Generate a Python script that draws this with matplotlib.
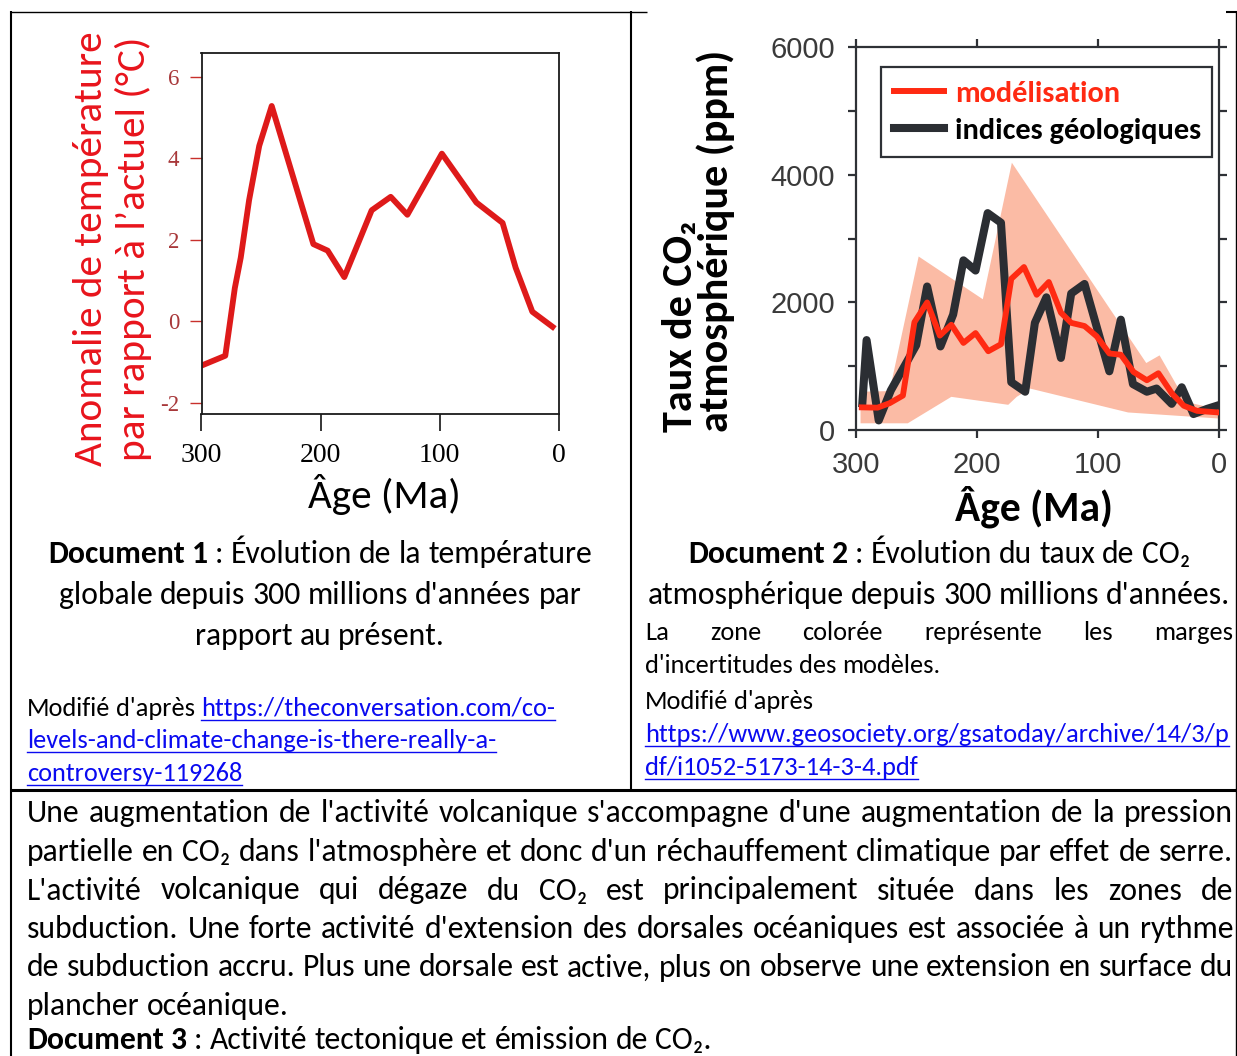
#!/usr/bin/python
"""
Documents 1 a 3 : temperature, CO2 atmospherique et activite tectonique
"""

# IMPORT
import re
import matplotlib
matplotlib.use("Agg")
import matplotlib.pyplot as plt
from matplotlib import font_manager
from matplotlib.lines import Line2D

# VARIABLES
W, H = 1237, 1056

# document 1 : anomalie de temperature (degC) en fonction de l'age (Ma)
age_temp = [299, 280, 272, 267, 260, 251.5, 241, 206, 194, 180, 157, 141, 127, 98, 69, 47, 36, 22, 5]
temp = [-1.08, -0.85, 0.81, 1.56, 2.97, 4.30, 5.28, 1.89, 1.73, 1.08, 2.72, 3.05, 2.61, 4.11, 2.91, 2.41, 1.31, 0.23, -0.14]
age_ticks = [300, 200, 100, 0]
temp_ticks = [-2, 0, 2, 4, 6]

# document 2 : CO2 (ppm)
age_geo = [294.5, 291, 281, 271, 250, 241, 230, 219.5, 211, 201, 191, 180, 171.5, 160, 152, 142.5,
           130.5, 122, 111, 90.5, 81, 71, 59.5, 51.5, 39, 30.7, 21, 10, 0]
co2_geo = [420, 1410, 150, 620, 1330, 2250, 1310, 1810, 2660, 2500, 3400, 3250, 750, 600, 1680, 2080,
           1130, 2140, 2290, 920, 1730, 720, 600, 650, 410, 670, 250, 330, 390]
age_mod = [295, 282, 272, 261, 251.5, 241, 230.5, 221, 211, 201, 190.5, 180, 171.5, 161, 150.5, 140.5,
           130.5, 122, 111, 101, 90.5, 81, 70.5, 59.5, 50, 38.7, 29, 18, 0]
co2_mod = [355, 350, 420, 540, 1690, 2000, 1480, 1650, 1365, 1520, 1235, 1345, 2370, 2555, 2120, 2320,
           1840, 1680, 1630, 1470, 1200, 1180, 910, 780, 890, 570, 380, 300, 275]
age_hi = [296, 272, 248, 195, 171, 60, 49, 27, 0]
co2_hi = [600, 610, 2720, 2050, 4190, 1050, 1170, 440, 320]
age_lo = [296, 257, 221, 174, 167, 156, 75, 0]
co2_lo = [105, 105, 520, 395, 520, 650, 275, 180]
co2_ticks = [0, 2000, 4000, 6000]
co2_minor = [1000, 3000, 5000]
leg_labels = ["modélisation", "indices géologiques"]

# textes
ylab1 = ["Anomalie de température", "par rapport à l’actuel (°C)"]
ylab2 = ["Taux de CO₂", "atmosphérique (ppm)"]
xlab = "Âge (Ma)"
doc1_lines = ["**Document 1** : Évolution de la température",
              "globale depuis 300 millions d'années par",
              "rapport au présent."]
doc1_src = ["Modifié d'après __https://theconversation.com/co-__",
            "__levels-and-climate-change-is-there-really-a-__",
            "__controversy-119268__"]
doc2_lines = ["**Document 2** : Évolution du taux de CO₂",
              "atmosphérique depuis 300 millions d'années."]
doc2_note = ["La zone colorée représente les marges",
             "d'incertitudes des modèles.",
             "Modifié d'après",
             "__https://www.geosociety.org/gsatoday/archive/14/3/p__",
             "__df/i1052-5173-14-3-4.pdf__"]
doc3_lines = ["Une augmentation de l'activité volcanique s'accompagne d'une augmentation de la pression",
              "partielle en CO₂ dans l'atmosphère et donc d'un réchauffement climatique par effet de serre.",
              "L'activité volcanique qui dégaze du CO₂ est principalement située dans les zones de",
              "subduction. Une forte activité d'extension des dorsales océaniques est associée à un rythme",
              "de subduction accru. Plus une dorsale est active, plus on observe une extension en surface du",
              "plancher océanique.",
              "**Document 3** : Activité tectonique et émission de CO₂."]

RED_T = "#de1a1a"
RED_M = "#ff2a12"
DARK = "#2b2e33"
LINK = "#0a0af0"


def has_font(name):
    try:
        font_manager.findfont(font_manager.FontProperties(family=name), fallback_to_default=False)
        return True
    except ValueError:
        return False


BODY = "Carlito" if has_font("Carlito") else "Lato"
FAM = [BODY, "DejaVu Sans"]
plt.rcParams["font.family"] = FAM
plt.rcParams["axes.unicode_minus"] = False

fig = plt.figure(figsize=(W / 100, H / 100), dpi=100)
R = fig.canvas.get_renderer()
STYLE = {"n": ("normal", "black"), "b": ("bold", "black"), "u": ("normal", LINK)}


# FUNCTIONS
def P(x, y):
    return x / W, 1 - y / H


def width(s, fs, weight="normal", family=None):
    t = fig.text(0, 0, s, fontsize=fs, weight=weight, family=family or FAM)
    w = t.get_window_extent(renderer=R).width
    t.remove()
    return w


def fit(s, px, weight="normal"):
    return 20 * px / width(s, 20, weight)


def parse(s):
    segs = []
    for part in re.split(r"(\*\*.*?\*\*|__.*?__)", s):
        if not part:
            continue
        if part.startswith("**"):
            segs.append((part[2:-2], "b"))
        elif part.startswith("__"):
            segs.append((part[2:-2], "u"))
        else:
            segs.append((part, "n"))
    toks = []
    for text, st in segs:
        for w in text.split():
            toks.append((w, st))
    return toks


def space(fs):
    return width("a a", fs) - width("aa", fs)


def natural(s, fs):
    tk = parse(s)
    return sum(width(w, fs, STYLE[st][0]) for w, st in tk) + space(fs) * (len(tk) - 1)


def draw_line(s, y, x0, x1=None, fs=20, align="left"):
    tk = parse(s)
    ws = [width(w, fs, STYLE[st][0]) for w, st in tk]
    gap = space(fs)
    total = sum(ws) + gap * (len(tk) - 1)
    x = x0
    if align == "justify" and len(tk) > 1:
        gap = (x1 - x0 - sum(ws)) / (len(tk) - 1)
    elif align == "center":
        x = x0 - total / 2
    for (w, st), wd in zip(tk, ws):
        weight, color = STYLE[st]
        fig.text(*P(x, y), w, fontsize=fs, weight=weight, color=color, ha="left", va="baseline")
        if st == "u":
            fig.add_artist(Line2D([x / W, (x + wd) / W], [1 - (y + 3.5) / H] * 2,
                                  color=color, lw=1.0, transform=fig.transFigure))
        x += wd + gap


def rule(x0, y0, x1, y1, lw):
    fig.add_artist(Line2D([x0 / W, x1 / W], [1 - y0 / H, 1 - y1 / H], color="black",
                          lw=lw, transform=fig.transFigure, solid_capstyle="butt"))


# MAIN
# --- document 1
ax1 = fig.add_axes([201.5 / W, 1 - 414 / H, 357 / W, 361 / H])
ax1.plot(age_temp, temp, color=RED_T, lw=4.2, solid_joinstyle="round")
ax1.set_xlim(300, 0)
ax1.set_ylim(-2.28, 6.58)
ax1.set_xticks(age_ticks)
ax1.set_yticks(temp_ticks)
ax1.tick_params(axis="x", direction="out", length=12, width=1.1, pad=9, labelsize=20,
                labelfontfamily="Liberation Serif")
ax1.tick_params(axis="y", direction="out", length=9, width=1.0, color="#c8302c",
                labelcolor="#a8383a", pad=7, labelsize=16.5, labelfontfamily="Liberation Serif")
for sp in ax1.spines.values():
    sp.set_linewidth(1.3)
    sp.set_color("#1a1a1a")

# --- document 2
ax2 = fig.add_axes([855.7 / W, 1 - 430 / H, 363.2 / W, 382.7 / H])
ax2.fill(age_hi + age_lo[::-1], co2_hi + co2_lo[::-1], color="#fbbba5", lw=0, zorder=1)
ax2.plot(age_geo, co2_geo, color=DARK, lw=5.8, zorder=3)
ax2.plot(age_mod, co2_mod, color=RED_M, lw=4.2, zorder=4)
ax2.set_xlim(300, 0)
ax2.set_ylim(0, 6000)
ax2.set_xticks(age_ticks)
ax2.set_yticks(co2_ticks)
ax2.set_yticks(co2_minor, minor=True)
ax2.tick_params(which="both", direction="out", top=True, right=True, length=6, width=1.6,
                color="#2e3136", labelsize=21, labelcolor="#3a3a3a",
                labelfontfamily="Liberation Sans", pad=9)
for sp in ax2.spines.values():
    sp.set_linewidth(1.6)
    sp.set_color("#2e3136")

fs_leg = fit(leg_labels[1], 247, "bold")
em = fs_leg * 100 / 72
handles = [Line2D([], [], color=RED_M, lw=4.3), Line2D([], [], color=DARK, lw=5.8)]
leg = ax2.legend(handles, leg_labels, loc="upper left", bbox_to_anchor=(0.0688, 0.0, 0.9115, 0.949),
                 mode="expand", borderaxespad=0, fancybox=False, framealpha=1, edgecolor="#2e3136",
                 prop=dict(family=FAM, weight="bold", size=fs_leg), handlelength=50 / em,
                 handletextpad=11 / em, borderpad=0.45, labelspacing=0.35)
leg.get_frame().set_linewidth(1.6)
leg.get_texts()[0].set_color(RED_M)

# --- axis labels
fs = fit(ylab1[0], 434)
for s, x in zip(ylab1, [102, 145]):
    fig.text(*P(x, 249), s, fontsize=fs, color="#e8141c", rotation=90, rotation_mode="anchor",
             ha="center", va="baseline")
fs = fit(ylab2[1], 383, "bold")
for s, x in zip(ylab2, [692, 728]):
    fig.text(*P(x, 432), s, fontsize=fs, weight="bold", rotation=90, rotation_mode="anchor",
             ha="left", va="baseline")
fig.text(*P(384, 508), xlab, fontsize=fit(xlab, 152), ha="center", va="baseline")
fig.text(*P(1034, 520), xlab, fontsize=fit(xlab, 158, "bold"), weight="bold", ha="center", va="baseline")

# --- texts
fs_main = 20 * 690 / natural(doc3_lines[-1], 20)
for s in doc3_lines[:5]:
    nat = natural(s, fs_main)
    if nat > 1200:
        fs_main *= 1200 / nat
fs_small = 20 * 327 / natural(doc2_note[1], 20)
for s, lim in [(doc2_note[3], 582), (doc1_src[0], 540)]:
    nat = natural(s, fs_small)
    if nat > lim:
        fs_small *= lim / nat

for s, y in zip(doc1_lines, [563, 604, 645]):
    draw_line(s, y, 320, fs=fs_main, align="center")
for s, y in zip(doc1_src, [716, 748.5, 781]):
    draw_line(s, y, 27, fs=fs_small)
for s, y in zip(doc2_lines, [563, 604]):
    draw_line(s, y, 939, fs=fs_main, align="center")
draw_line(doc2_note[0], 640, 645, 1233, fs=fs_small, align="justify")
for s, y in zip(doc2_note[1:], [673, 709, 742, 775]):
    draw_line(s, y, 645, fs=fs_small)
for i, (s, y) in enumerate(zip(doc3_lines, [822, 861, 899.5, 938, 976.5, 1014.5, 1049])):
    draw_line(s, y, 27, 1233, fs=fs_main, align="justify" if i < 5 else "left")

# --- table borders
rule(10, 11.5, 647, 11.5, 1.0)
rule(1226, 11.5, 1237, 11.5, 1.5)
rule(10.5, 11, 10.5, 1056, 1.5)
rule(631, 11, 631, 790, 1.5)
rule(10, 790, 1237, 790, 2.2)
rule(1236, 11, 1236, 1056, 1.0)

fig.savefig("out.png", dpi=100)
